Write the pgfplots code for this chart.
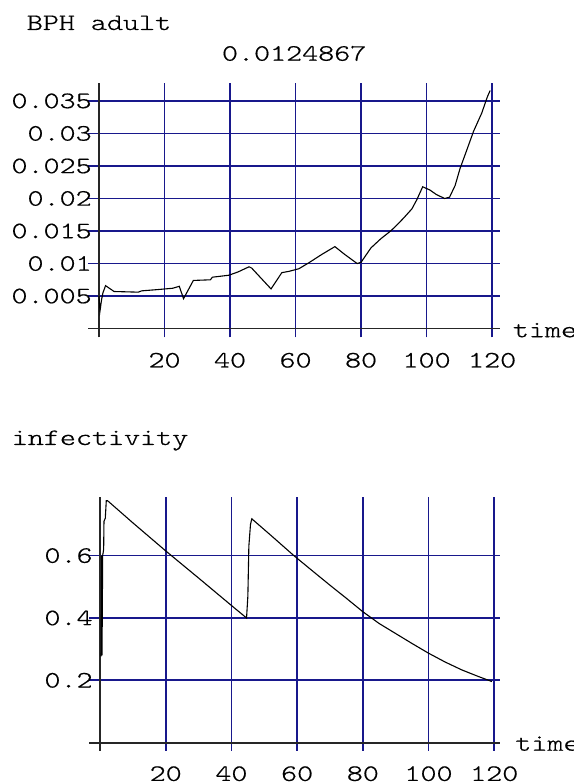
\documentclass[border=0pt]{standalone}
\usepackage{pgfplots}
\pgfplotsset{compat=1.18}
\usepackage{fontspec}
\newfontfamily\cour{lmmonolt10-regular.otf}[FakeStretch=1.3, FakeBold=0.6]
\newcommand\tfont{\cour\fontsize{23.5}{28}\selectfont}
\definecolor{gridblue}{RGB}{24,24,140}

\pgfplotsset{
  odeplot/.style={
    scale only axis,
    anchor=south west,
    axis line style={draw=none},
    major tick length=0pt,
    grid=major,
    grid style={gridblue, line width=1.7pt},
    extra x ticks={0}, extra x tick labels={},
    extra y ticks={0}, extra y tick labels={},
    extra x tick style={grid style={black!85, line width=1.7pt}},
    extra y tick style={grid style={black!85, line width=1.7pt}},
    scaled y ticks=false,
    tick label style={font=\tfont, inner sep=0pt},
    xticklabel style={anchor=center, yshift=-23pt},
    yticklabel style={anchor=east, xshift=3.6pt},
    xtick={20,40,60,80,100,120},
    xticklabels={20,40,60,80,100,120},
    xlabel={time},
  },
  curve/.style={black, line width=1.1pt, mark=none},
}

\begin{document}
\begin{tikzpicture}
\path[use as bounding box] (0pt,0pt) rectangle (573pt,-783pt);

% upper panel
\begin{axis}[
  odeplot,
  at={(88.3pt,-337.3pt)},
  width=411.7pt, height=254.6pt,
  xmin=-3.27, xmax=122.4,
  ymin=-0.00134, ymax=0.0378,
  ytick={0.005,0.01,0.015,0.02,0.025,0.03,0.035},
  yticklabels={0.005,0.01,0.015,0.02,0.025,0.03,0.035},
  ylabel={BPH adult},
  title={0.0124867},
  every axis y label/.style={at={(axis description cs:0.026,1)}, anchor=base, yshift=52.7pt, font=\tfont, inner sep=0pt},
  every axis x label/.style={at={(axis description cs:1,0.0342)}, anchor=base west, xshift=12.7pt, yshift=-8.6pt, font=\tfont, inner sep=0pt},
  every axis title/.style={at={(axis description cs:0.5,1)}, anchor=base, yshift=22pt, font=\tfont, inner sep=0pt},
]
\addplot[curve] coordinates {
  (0,0.0050) (0.3,0.0027) (0.8,0.0045) (1.2,0.0055) (2.0,0.0066) (4.6,0.0057)
  (12,0.0056) (13,0.0058) (18,0.0060) (22.5,0.0062) (24.5,0.0065) (25.8,0.0046)
  (28.8,0.0074) (34,0.0075) (34.6,0.0079) (39.6,0.0082) (42.4,0.0087) (45.8,0.0095)
  (46.6,0.0093) (52.5,0.0061) (55.8,0.0086) (58,0.0088) (61,0.0092) (64,0.0101)
  (68,0.0114) (72,0.0126) (75,0.0114) (78.8,0.0100) (80,0.0102) (83,0.0124)
  (86,0.0138) (89,0.0150) (90.5,0.0157) (93,0.0170) (95.5,0.0184) (97,0.0198)
  (98.8,0.0218) (101,0.0213) (103,0.0206) (105.5,0.0200) (107,0.0202) (108.7,0.0220)
  (110.2,0.0246) (112.3,0.0275) (114.3,0.0303) (116.8,0.0331) (118.6,0.0357) (119.4,0.0366)
};
\end{axis}

% lower panel
\begin{axis}[
  odeplot,
  at={(89.2pt,-750.7pt)},
  width=410.95pt, height=253.4pt,
  xmin=-3.3, xmax=121.8,
  ymin=-0.0257, ymax=0.787,
  ytick={0.2,0.4,0.6},
  yticklabels={0.2,0.4,0.6},
  ylabel={infectivity},
  every axis y label/.style={at={(axis description cs:0.0264,1)}, anchor=base, yshift=52.3pt, font=\tfont, inner sep=0pt},
  every axis x label/.style={at={(axis description cs:1,0.0316)}, anchor=base west, xshift=15pt, yshift=-8pt, font=\tfont, inner sep=0pt},
]
\addplot[curve] coordinates {
  (0.3,0.277) (0.5,0.60) (0.6,0.28) (0.8,0.60) (1.1,0.62) (1.2,0.71) (1.6,0.72)
  (1.9,0.776) (2.3,0.776) (10,0.705) (20,0.615) (30,0.528) (40,0.44) (44.6,0.40)
  (45.0,0.47) (45.3,0.63) (45.8,0.70) (46.2,0.718) (52,0.665) (59,0.60) (65,0.548)
  (70,0.505) (75,0.463) (80,0.42) (85,0.382) (90,0.350) (95,0.318) (100,0.287)
  (105,0.259) (110,0.234) (115,0.213) (119.3,0.196)
};
\end{axis}
\end{tikzpicture}
\end{document}
